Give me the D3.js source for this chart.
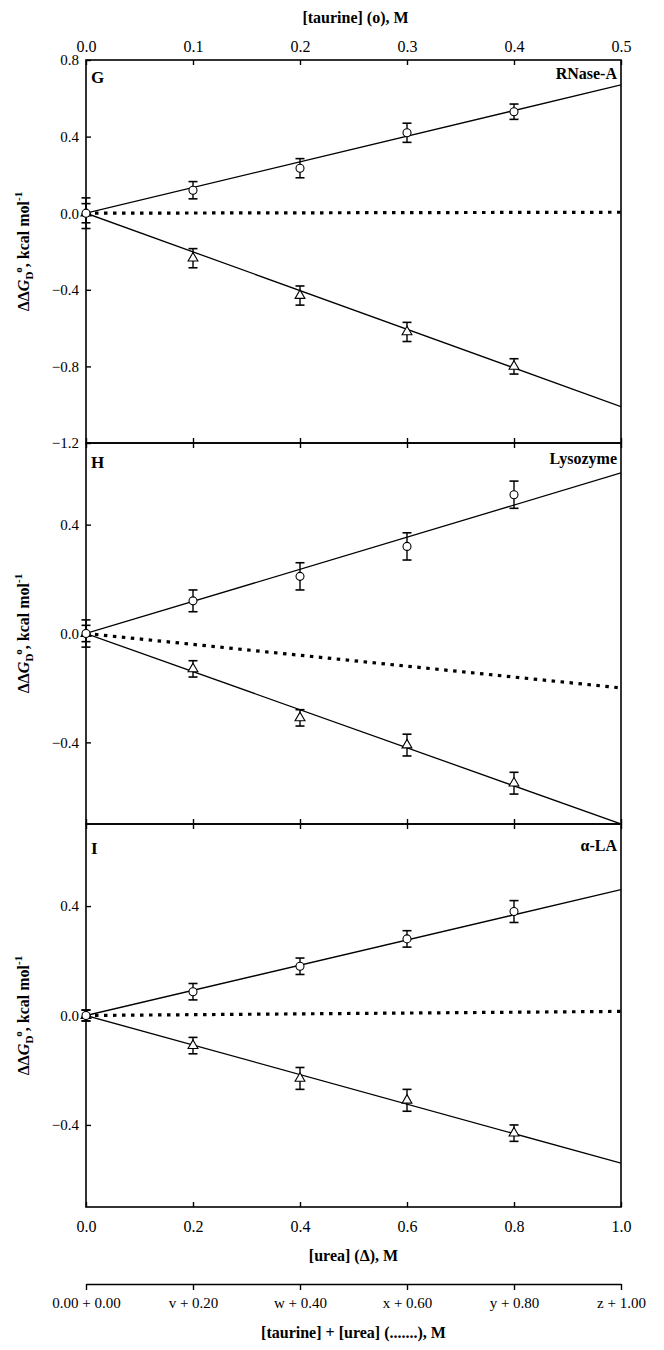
<!DOCTYPE html>
<html>
<head>
<meta charset="utf-8">
<script src="https://cdn.jsdelivr.net/npm/d3@7"></script>
<style>
  html, body { margin: 0; padding: 0; background: #fff; }
  svg { display: block; }
  text { font-family: "Liberation Serif", "Times New Roman", serif; fill: #000; }
</style>
</head>
<body>
<div id="chart"></div>
<script>
// ---------------- data ----------------
const ureaConc = [0, 0.2, 0.4, 0.6, 0.8];
const taurineConc = [0, 0.1, 0.2, 0.3, 0.4];
const ureaTicks = [0, 0.2, 0.4, 0.6, 0.8, 1.0];
const taurineTicks = [0, 0.1, 0.2, 0.3, 0.4, 0.5];
const mixTickLabels = ["0.00 + 0.00", "v + 0.20", "w + 0.40", "x + 0.60", "y + 0.80", "z + 1.00"];
const panelLetters = ["G", "H", "I"];
const proteinNames = ["RNase-A", "Lysozyme", "\u03B1-LA"];
const yTicksG = [-1.2, -0.8, -0.4, 0, 0.4, 0.8];
const yTicksHI = [-0.4, 0, 0.4];
const yDomainG = [-1.2, 0.8];
const yDomainHI = [-0.7, 0.7];

// RNase-A (G)
const rnaseTaurine = [0, 0.12, 0.235, 0.42, 0.53];
const rnaseTaurineErr = [0.08, 0.045, 0.05, 0.05, 0.04];
const rnaseUrea = [0, -0.235, -0.43, -0.62, -0.80];
const rnaseUreaErr = [0.05, 0.05, 0.05, 0.05, 0.04];
const rnaseFitEnds = [0.67, -1.01, 0.005]; // taurine@0.5, urea@1.0, mixture@1.0

// Lysozyme (H)
const lysoTaurine = [0, 0.12, 0.21, 0.32, 0.51];
const lysoTaurineErr = [0.05, 0.04, 0.05, 0.05, 0.05];
const lysoUrea = [0, -0.13, -0.31, -0.41, -0.55];
const lysoUreaErr = [0.03, 0.03, 0.03, 0.04, 0.04];
const lysoFitEnds = [0.59, -0.70, -0.20];

// alpha-LA (I)
const laTaurine = [0, 0.087, 0.18, 0.28, 0.38];
const laTaurineErr = [0.02, 0.03, 0.03, 0.03, 0.04];
const laUrea = [0, -0.11, -0.23, -0.31, -0.43];
const laUreaErr = [0.02, 0.03, 0.04, 0.04, 0.03];
const laFitEnds = [0.46, -0.54, 0.015];

// ---------------- layout ----------------
const W = 664, H = 1350;
const left = 86, right = 621;
const panelTops = [60, 443, 824];
const panelBottoms = [443, 824, 1207];
const letterOffsets = [23, 25, 30];
const nameOffsets = [19, 21, 27];

const panels = [
  { letter: panelLetters[0], name: proteinNames[0], dom: yDomainG, ticks: yTicksG,
    tau: rnaseTaurine, tauErr: rnaseTaurineErr, urea: rnaseUrea, ureaErr: rnaseUreaErr, fit: rnaseFitEnds },
  { letter: panelLetters[1], name: proteinNames[1], dom: yDomainHI, ticks: yTicksHI,
    tau: lysoTaurine, tauErr: lysoTaurineErr, urea: lysoUrea, ureaErr: lysoUreaErr, fit: lysoFitEnds },
  { letter: panelLetters[2], name: proteinNames[2], dom: yDomainHI, ticks: yTicksHI,
    tau: laTaurine, tauErr: laTaurineErr, urea: laUrea, ureaErr: laUreaErr, fit: laFitEnds }
];

const svg = d3.select("#chart").append("svg").attr("width", W).attr("height", H);

const xUrea = d3.scaleLinear().domain([0, 1]).range([left, right]);
const xTau = d3.scaleLinear().domain([0, 0.5]).range([left, right]);

const fmt1 = d3.format(".1f");

function styleAxis(g) {
  g.selectAll("path.domain").remove();
  g.selectAll(".tick line").attr("stroke", "#000").attr("stroke-width", 1.4);
  g.selectAll(".tick text").attr("font-family", "Liberation Serif, serif").attr("font-size", 16).attr("fill", "#000");
}

panels.forEach((p, i) => {
  const top = panelTops[i], bot = panelBottoms[i];
  const y = d3.scaleLinear().domain(p.dom).range([bot, top]);
  const g = svg.append("g");

  // inward ticks on bottom edge (urea positions)
  const bAx = g.append("g").attr("transform", `translate(0,${bot})`)
    .call(d3.axisBottom(xUrea).tickValues(ureaTicks).tickSize(-5).tickSizeOuter(0)
      .tickPadding(14).tickFormat(i === 2 ? fmt1 : () => ""));
  styleAxis(bAx);
  // inward ticks on top edge
  if (i === 0) {
    const tAx = g.append("g").attr("transform", `translate(0,${top})`)
      .call(d3.axisTop(xTau).tickValues(taurineTicks).tickSize(-5).tickSizeOuter(0)
        .tickPadding(8).tickFormat(fmt1));
    styleAxis(tAx);
  } else {
    const tAx = g.append("g").attr("transform", `translate(0,${top})`)
      .call(d3.axisTop(xUrea).tickValues(ureaTicks).tickSize(-5).tickSizeOuter(0).tickFormat(() => ""));
    styleAxis(tAx);
  }
  // left axis
  const lAx = g.append("g").attr("transform", `translate(${left},0)`)
    .call(d3.axisLeft(y).tickValues(p.ticks).tickSize(-5).tickSizeOuter(0).tickPadding(7).tickFormat(fmt1));
  styleAxis(lAx);
  lAx.selectAll(".tick text").attr("font-size", 15);

  // frame
  g.append("rect").attr("x", left).attr("y", top).attr("width", right - left).attr("height", bot - top)
    .attr("fill", "none").attr("stroke", "#000").attr("stroke-width", 1.6);

  const clip = "clip" + i;
  svg.append("clipPath").attr("id", clip).append("rect")
    .attr("x", left).attr("y", top).attr("width", right - left).attr("height", bot - top);
  const plot = g.append("g").attr("clip-path", `url(#${clip})`);

  const line = d3.line().x(d => d[0]).y(d => d[1]);
  // fit lines
  plot.append("path").attr("d", line([[xTau(0), y(0)], [xTau(0.5), y(p.fit[0])]]))
    .attr("stroke", "#000").attr("stroke-width", 1.3).attr("fill", "none");
  plot.append("path").attr("d", line([[xUrea(0), y(0)], [xUrea(1), y(p.fit[1])]]))
    .attr("stroke", "#000").attr("stroke-width", 1.3).attr("fill", "none");
  // mixture dotted line
  plot.append("path").attr("d", line([[xUrea(0), y(0)], [xUrea(1), y(p.fit[2])]]))
    .attr("stroke", "#000").attr("stroke-width", 3.2).attr("fill", "none")
    .attr("stroke-dasharray", "3.5,5.5");

  const capW = 4.5;
  function errBars(xs, xsc, vals, errs) {
    xs.forEach((xv, k) => {
      const cx = xsc(xv), lo = y(vals[k] - errs[k]), hi = y(vals[k] + errs[k]);
      g.append("line").attr("x1", cx).attr("x2", cx).attr("y1", lo).attr("y2", hi)
        .attr("stroke", "#000").attr("stroke-width", 1.4);
      [lo, hi].forEach(yy => g.append("line").attr("x1", cx - capW).attr("x2", cx + capW)
        .attr("y1", yy).attr("y2", yy).attr("stroke", "#000").attr("stroke-width", 1.6));
    });
  }
  errBars(taurineConc, xTau, p.tau, p.tauErr);
  errBars(ureaConc, xUrea, p.urea, p.ureaErr);

  // markers
  g.selectAll(null).data(ureaConc).enter().append("path")
    .attr("d", d3.symbol().type(d3.symbolTriangle).size(42)())
    .attr("transform", (d, k) => `translate(${xUrea(d)},${y(p.urea[k])})`)
    .attr("fill", "#fff").attr("stroke", "#000").attr("stroke-width", 1.1);
  g.selectAll(null).data(taurineConc).enter().append("circle")
    .attr("cx", d => xTau(d)).attr("cy", (d, k) => y(p.tau[k])).attr("r", 4)
    .attr("fill", "#fff").attr("stroke", "#000").attr("stroke-width", 1.1);

  // labels
  g.append("text").attr("x", 91).attr("y", top + letterOffsets[i]).text(p.letter)
    .attr("font-weight", "bold").attr("font-size", 17);
  g.append("text").attr("x", 617).attr("y", top + nameOffsets[i]).attr("text-anchor", "end")
    .text(p.name).attr("font-weight", "bold").attr("font-size", 16);

  // y-axis title
  const yt = svg.append("text").attr("transform", `translate(29,${(top + bot) / 2}) rotate(-90)`)
    .attr("text-anchor", "middle").attr("font-weight", "bold").attr("font-size", 16);
  yt.append("tspan").text("\u0394\u0394");
  yt.append("tspan").text("G").attr("font-style", "italic");
  yt.append("tspan").text("D").attr("font-size", 11).attr("dy", 4);
  yt.append("tspan").text("o").attr("font-size", 11).attr("dy", -11).attr("dx", -1);
  yt.append("tspan").text(", kcal mol").attr("dy", 7);
  yt.append("tspan").text("-1").attr("font-size", 11).attr("dy", -7);
});

// axis titles
svg.append("text").attr("x", (left + right) / 2 + 2).attr("y", 23).attr("text-anchor", "middle")
  .attr("font-weight", "bold").attr("font-size", 16).text("[taurine] (o), M");
svg.append("text").attr("x", (left + right) / 2).attr("y", 1261).attr("text-anchor", "middle")
  .attr("font-weight", "bold").attr("font-size", 16).text("[urea] (\u0394), M");

// second (mixture) axis
const mixY = 1284;
const mAx = svg.append("g").attr("transform", `translate(0,${mixY})`)
  .call(d3.axisBottom(xUrea).tickValues(ureaTicks).tickSize(6).tickSizeOuter(0).tickPadding(7)
    .tickFormat((d, k) => mixTickLabels[k]));
mAx.select("path.domain").attr("stroke", "#000").attr("stroke-width", 1.6);
mAx.selectAll(".tick line").attr("stroke", "#000").attr("stroke-width", 1.4);
mAx.selectAll(".tick text").attr("font-family", "Liberation Serif, serif").attr("font-size", 15).attr("fill", "#000");
svg.append("text").attr("x", (left + right) / 2).attr("y", 1338).attr("text-anchor", "middle")
  .attr("font-weight", "bold").attr("font-size", 16).text("[taurine] + [urea] (.......), M");
</script>
</body>
</html>
